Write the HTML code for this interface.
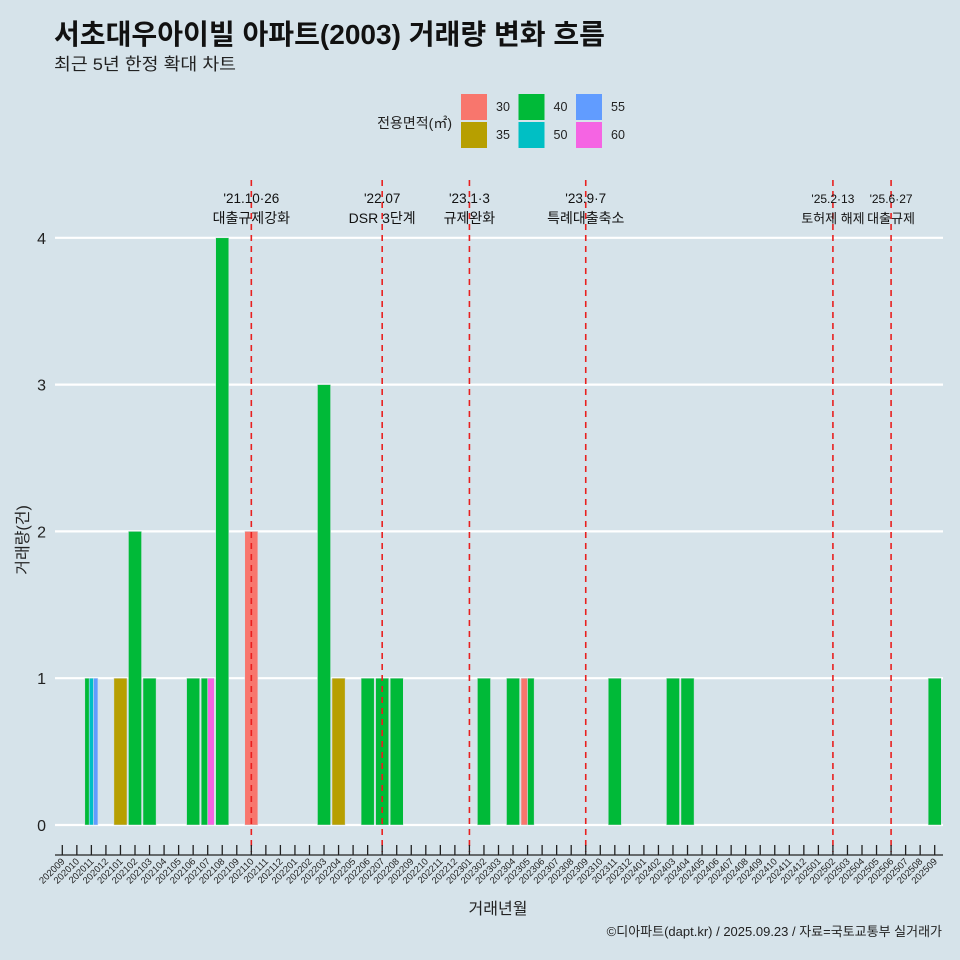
<!DOCTYPE html>
<html><head><meta charset="utf-8"><style>
body{margin:0;background:#d6e3ea;}
svg{display:block;font-family:"Liberation Sans","Noto Sans CJK KR",sans-serif;}
</style></head><body>
<svg id="c" width="960" height="960" xmlns="http://www.w3.org/2000/svg">
<rect width="960" height="960" fill="#d6e3ea"/>
<text x="54" y="44" font-size="28" font-weight="bold" fill="#111" textLength="551" lengthAdjust="spacingAndGlyphs">서초대우아이빌 아파트(2003) 거래량 변화 흐름</text>
<text x="54" y="70" font-size="17" fill="#222" textLength="182" lengthAdjust="spacingAndGlyphs">최근 5년 한정 확대 차트</text>
<g id="grid"></g><g id="bars"></g><g id="events"></g><g id="xaxis"></g><g id="legend"></g>
<text x="20" y="532" font-size="16" fill="#222" transform="rotate(-90 28 532)" text-anchor="middle">거래량(건)</text>
<text x="498" y="914" font-size="16" fill="#222" text-anchor="middle">거래년월</text>
<text x="942" y="936" font-size="13" fill="#222" text-anchor="end">©디아파트(dapt.kr) / 2025.09.23 / 자료=국토교통부 실거래가</text>
</svg>
<script>
const months=[];for(let y=2020,m=9;!(y===2025&&m===10);){months.push(''+y+(m<10?'0':'')+m);m++;if(m>12){m=1;y++;}}
const areas=['30','35','40','50','55','60'];
const colors=['#f8766d','#b79f00','#00ba38','#00bfc4','#619cff','#f564e3'];
const tradeMonths=['202011','202011','202011','202101','202102','202103','202106','202107','202107','202108','202110','202203','202204','202206','202207','202208','202302','202304','202305','202305','202311','202403','202404','202509'];
const tradeAreas=['40','50','55','35','40','40','40','40','60','40','30','40','35','40','40','40','40','40','30','40','40','40','40','40'];
const tradeCounts=[1,1,1,1,2,1,1,1,1,4,2,3,1,1,1,1,1,1,1,1,1,1,1,1];
const yTicks=[0,1,2,3,4];
const eventMonths=['202110','202207','202301','202309','202502','202506'];
const eventDates=["'21.10·26","'22.07","'23.1·3","'23.9·7","'25.2·13","'25.6·27"];
const eventLabels=['대출규제강화','DSR 3단계','규제완화','특례대출축소','토허제 해제','대출규제'];
const NS='http://www.w3.org/2000/svg';
const X=i=>62.3+14.54*i, Y=v=>825-146.8*v;
function mk(t,a,p){const e=document.createElementNS(NS,t);for(const k in a)e.setAttribute(k,a[k]);p.appendChild(e);return e;}
const g=document.getElementById('grid');
yTicks.forEach(v=>{
 const l=mk('line',{x1:55,x2:943,y1:Y(v),y2:Y(v),stroke:'#fff','stroke-width':2.2},g);
 
 
 const t=mk('text',{x:46,y:Y(v)+6,'font-size':16,fill:'#222','text-anchor':'end'},g);t.textContent=v;
 
 
});
const b=document.getElementById('bars');
const groups={};tradeMonths.forEach((m,k)=>{(groups[m]=groups[m]||[]).push(k);});
for(const m in groups){
 const ks=groups[m].sort((a,c)=>areas.indexOf(tradeAreas[a])-areas.indexOf(tradeAreas[c]));
 const i=months.indexOf(m),W=13.1,w=W/ks.length;
 ks.forEach((k,j)=>{
  const r=mk('rect',{x:X(i)-W/2+j*w,y:Y(tradeCounts[k]),width:w,height:Y(0)-Y(tradeCounts[k]),fill:colors[areas.indexOf(tradeAreas[k])],stroke:'#d6e3ea','stroke-width':0.5},b);
  
  
 });
}
const ev=document.getElementById('events');
eventMonths.forEach((m,k)=>{
 const x=X(months.indexOf(m));
 const l=mk('line',{x1:x,x2:x,y1:180,y2:852,stroke:'#e8201f','stroke-width':1.6,'stroke-dasharray':'6,5'},ev);
 
 
 const t1=mk('text',{x:x,y:203,'font-size':k>=4?12:13.5,fill:'#111','text-anchor':'middle'},ev);t1.textContent=eventDates[k];
 
 
 const t2=mk('text',{x:x,y:223,'font-size':k>=4?13:14,fill:'#111','text-anchor':'middle'},ev);t2.textContent=eventLabels[k];
 
 
});
const xa=document.getElementById('xaxis');
const al=mk('line',{x1:55,x2:943,y1:855,y2:855,stroke:'#222','stroke-width':1.3},xa);


months.forEach((m,i)=>{
 const x=X(i);
 mk('line',{x1:x,x2:x,y1:845,y2:855,stroke:'#222','stroke-width':1.3},xa);
 const t=mk('text',{x:x+3,y:862,'font-size':9.5,fill:'#222','text-anchor':'end',transform:`rotate(-45 ${x+3} 862)`},xa);t.textContent=m;
 
 
});
const lg=document.getElementById('legend');
const lt=mk('text',{x:452,y:128,'font-size':14,fill:'#222','text-anchor':'end'},lg);lt.textContent='전용면적(㎡)';


areas.forEach((a,k)=>{
 const col=Math.floor(k/2),row=k%2,x=461+col*57.5,y=94+row*28;
 const r=mk('rect',{x:x,y:y,width:26,height:26,fill:colors[k]},lg);
 
 
 const t=mk('text',{x:x+35,y:y+17,'font-size':12.5,fill:'#222'},lg);t.textContent=a;
 
 
});
</script>
</body></html>
